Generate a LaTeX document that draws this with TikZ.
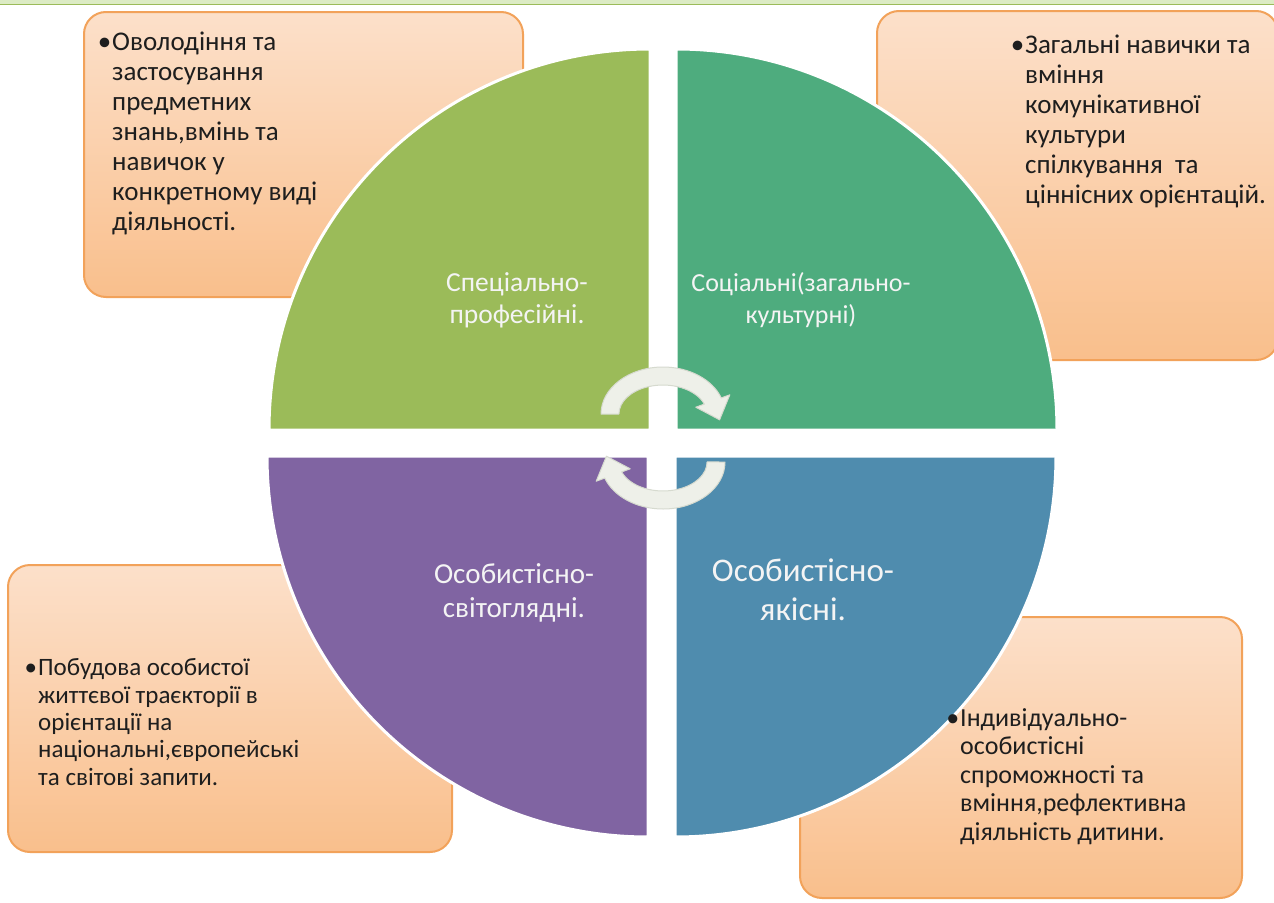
\documentclass[tikz,border=0pt]{standalone}
\usepackage{fontspec}
\setmainfont{Carlito}
\usetikzlibrary{calc}
\definecolor{qgreen}{HTML}{9BBB59}
\definecolor{qteal}{HTML}{4EAC7E}
\definecolor{qpurple}{HTML}{8064A2}
\definecolor{qblue}{HTML}{4F8CAE}
\definecolor{boxtop}{HTML}{FCE0CA}
\definecolor{boxbot}{HTML}{F9BF8C}
\definecolor{boxline}{HTML}{F2A25A}
\definecolor{arrowfill}{HTML}{EEF0E9}
\definecolor{arrowline}{HTML}{D6DACF}
\definecolor{bandlight}{HTML}{DCEBC4}
\definecolor{labeltext}{HTML}{F4F4F4}
\definecolor{bodytext}{HTML}{1E1E1E}
\newcommand\blt{\llap{•\hspace{1pt}}}
\begin{document}
\begin{tikzpicture}[x=1pt,y=-1pt,
  infobox/.style={draw=boxline, line width=2pt, rounded corners=22pt,
    top color=boxtop, bottom color=boxbot, inner sep=0pt},
  quad/.style={draw=white, line width=3pt},
  qlabel/.style={text=labeltext, align=center, inner sep=0pt},
  boxtext/.style={text=bodytext, align=left, inner sep=0pt, anchor=base west},
  cyclearrow/.style={fill=arrowfill, draw=arrowline, line width=1pt, line join=round}]
\useasboundingbox (0,0) rectangle (1274,902);
\fill[white] (0,0) rectangle (1274,902);
% top band
\fill[bandlight] (0,0) rectangle (1274,4);
\draw[qgreen, line width=1.5pt] (0,4.5) -- (1274,4.5);

% boxes
\node[infobox, minimum width=439pt, minimum height=285pt] (boxTL) at (303.5,154.5) {};
\node[infobox, minimum width=401pt, minimum height=349pt] (boxTR) at (1077.5,185.5) {};
\node[infobox, minimum width=444pt, minimum height=287pt] (boxBL) at (230,708.5) {};
\node[infobox, minimum width=442pt, minimum height=281pt] (boxBR) at (1021,757.5) {};

% quadrants
\path[quad, fill=qgreen] (650,430) -- (269,430) arc[start angle=180, end angle=270, radius=381] -- cycle;
\path[quad, fill=qteal] (676,430) -- (676,49) arc[start angle=270, end angle=360, radius=381] -- cycle;
\path[quad, fill=qpurple] (648,456) -- (267,456) arc[start angle=180, end angle=90, radius=381] -- cycle;
\path[quad, fill=qblue] (675,456) -- (1056,456) arc[start angle=0, end angle=90, radius=381] -- cycle;

% circular arrows
\path[cyclearrow] (601,414) arc[start angle=180, end angle=340, x radius=62, y radius=47]
  -- (729.8,394.8) -- (719.6,419.8) -- (695.8,407.2) -- (704.3,404.1)
  arc[start angle=340, end angle=180, x radius=44, y radius=29] -- cycle;
\begin{scope}[rotate around={180:(663,438)}]
\path[cyclearrow] (601,414) arc[start angle=180, end angle=340, x radius=62, y radius=47]
  -- (729.8,394.8) -- (719.6,419.8) -- (695.8,407.2) -- (704.3,404.1)
  arc[start angle=340, end angle=180, x radius=44, y radius=29] -- cycle;
\end{scope}

% quadrant labels
\node[qlabel, font=\fontsize{27.5}{32}\selectfont] (lgreen) at (517,300) {Спеціально-\\професійні.};
\node[qlabel, font=\fontsize{26}{32}\selectfont] (lteal) at (801,300) {Соціальні(загально-\\культурні)};
\node[qlabel, font=\fontsize{29}{34}\selectfont] (lpurple) at (514,593) {Особистісно-\\світоглядні.};
\node[qlabel, font=\fontsize{33}{39}\selectfont] (lblue) at (803,590) {Особистісно-\\якісні.};

% box texts (base anchor = baseline of last line)
\node[boxtext, font=\fontsize{27}{30}\selectfont] (tTL) at (112,230)
 {\blt Оволодіння та\\застосування\\предметних\\знань,вмінь та\\навичок у\\конкретному виді\\діяльності.};
\node[boxtext, font=\fontsize{27}{30}\selectfont] (tTR) at (1025,203)
 {\blt Загальні навички та\\вміння\\комунікативної\\культури\\спілкування\ \ та\\ціннісних орієнтацій.};
\node[boxtext, font=\fontsize{25}{27.3}\selectfont] (tBL) at (38,785)
 {\blt Побудова особистої\\життєвої траєкторії в\\орієнтації на\\національні,європейські\\та світові запити.};
\node[boxtext, font=\fontsize{26}{28.5}\selectfont] (tBR) at (960,840)
 {\blt Індивідуально-\\особистісні\\спроможності та\\вміння,рефлективна\\діяльність дитини.};
\end{tikzpicture}
\end{document}
